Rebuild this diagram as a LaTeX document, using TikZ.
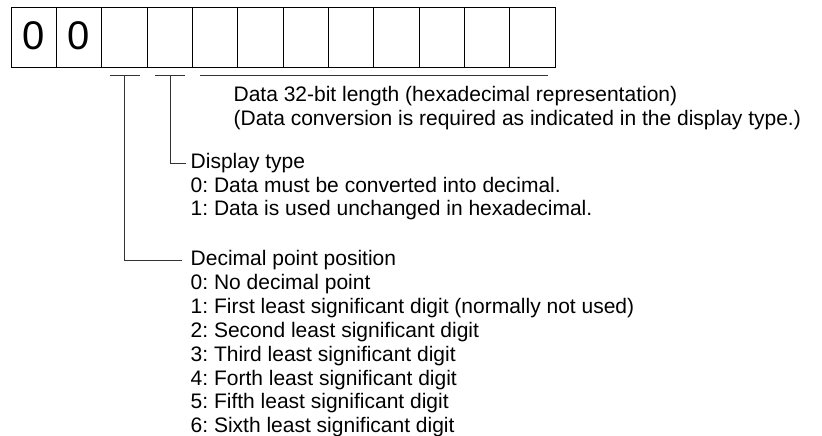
\documentclass[tikz,border=0pt]{standalone}
\usepackage{fontspec}
\setmainfont{Liberation Sans}
\frenchspacing
\usetikzlibrary{positioning,calc}
\tikzset{
  cell/.style  = {rectangle, draw=black, line width=1bp, minimum width=45.333bp,
                  minimum height=60bp, inner sep=0pt, outer sep=0pt},
  digit/.style = {inner sep=0pt, anchor=base, font=\fontsize{40bp}{40bp}\selectfont},
  lbl/.style   = {inner xsep=9bp, inner ysep=0pt, anchor=base west,
                  font=\fontsize{21bp}{24bp}\selectfont},
  brk/.style   = {line width=1bp, black!80},
}

\begin{document}
\begin{tikzpicture}[x=1bp, y=-1bp]
  \useasboundingbox (0,0) rectangle (822,436);
  % register of 12 digits
  \node[cell, anchor=north west] (c1) at (11,8) {};
  \foreach \i [evaluate=\i as \j using int(\i-1)] in {2,...,12}
    \node[cell, right=0pt of c\j] (c\i) {};
  \node[digit] (z1) at ([yshift=18bp]c1.south) {0};
  \node[digit] (z2) at ([yshift=18bp]c2.south) {0};
  % bracket ends under the cells
  \coordinate (dpL) at ([shift={(8bp,-8bp)}]c3.south west);
  \coordinate (dpR) at ([shift={(-7bp,-8bp)}]c3.south east);
  \coordinate (dtL) at ([shift={(8bp,-8bp)}]c4.south west);
  \coordinate (dtR) at ([shift={(-7bp,-8bp)}]c4.south east);
  \coordinate (daL) at ([shift={(8bp,-8bp)}]c5.south west);
  \coordinate (daR) at ([shift={(-7bp,-8bp)}]c12.south east);
  % data
  \node[lbl] (da1) at (224.4,102) {Data 32-bit length (hexadecimal representation)};
  \node[lbl] (da2) at ([yshift=-23.8bp]da1.base west) {(Data conversion is required as indicated in the display type.)};
  % display type
  \node[lbl] (dt0) at (181.5,169) {Display type};
  \node[lbl] (dt1) at ([yshift=-23.3bp]dt0.base west) {0: Data must be converted into decimal.};
  \node[lbl] (dt2) at ([yshift=-23.3bp]dt1.base west) {1: Data is used unchanged in hexadecimal.};
  % decimal point position
  \node[lbl] (dp0) at (181.5,266) {Decimal point position};
  \foreach \t [count=\i, evaluate=\i as \j using int(\i-1)] in {%
      0: No decimal point,
      1: First least significant digit (normally not used),
      2: Second least significant digit,
      3: Third least significant digit,
      4: Forth least significant digit,
      5: Fifth least significant digit,
      6: Sixth least significant digit}
    \node[lbl] (dp\i) at ([yshift=-23.8bp]dp\j.base west) {\t};
  % brackets and leaders
  \draw[brk] (dpL) -- (dpR);
  \draw[brk] (dtL) -- (dtR);
  \draw[brk] (daL) -- (daR);
  \draw[brk] ($(dpL)!0.5!(dpR)$) |- (dp0.west);
  \draw[brk] ($(dtL)!0.5!(dtR)$) |- ([xshift=4bp]dt0.west);
\end{tikzpicture}
\end{document}
